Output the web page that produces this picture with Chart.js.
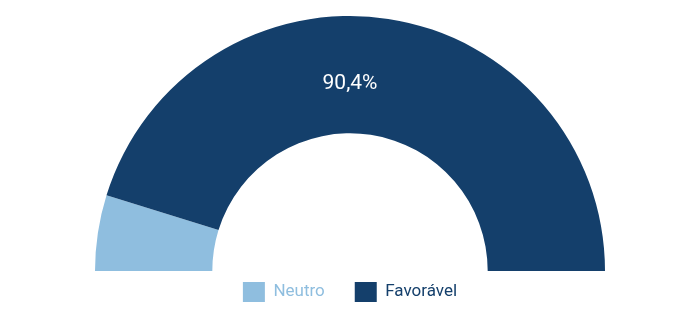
<!DOCTYPE html>
<html>
<head>
<meta charset="utf-8">
<script src="https://cdn.jsdelivr.net/npm/chart.js@4"></script>
<style>
html, body { margin: 0; padding: 0; background: #fff; }
#wrap { width: 700px; height: 327px; }
</style>
</head>
<body>
<div id="wrap"><canvas id="gaugeChart"></canvas></div>
<script>
const categories = ["Neutro", "Favorável"];
const values = [9.6, 90.4];
const colors = ["#8fbedf", "#143f6b"];
const labelIndex = 1;

// percent label on the top of the big arc
const topLabel = {
  id: "topLabel",
  afterDatasetsDraw(chart) {
    const arc = chart.getDatasetMeta(0).data[labelIndex];
    if (!arc) return;
    const total = values.reduce((a, b) => a + b, 0);
    const pct = (values[labelIndex] / total * 100).toFixed(1).replace(".", ",") + "%";
    const r = arc.innerRadius + (arc.outerRadius - arc.innerRadius) * 0.42;
    const ctx = chart.ctx;
    ctx.save();
    ctx.fillStyle = "#ffffff";
    ctx.font = "21px Roboto";
    ctx.textAlign = "center";
    ctx.textBaseline = "middle";
    ctx.fillText(pct, arc.x, arc.y - r);
    ctx.restore();
  }
};

new Chart(document.getElementById("gaugeChart"), {
  type: "doughnut",
  data: {
    labels: categories,
    datasets: [{
      data: values,
      backgroundColor: colors,
      borderWidth: 0,
      radius: 255,
      clip: false
    }]
  },
  options: {
    responsive: true,
    maintainAspectRatio: false,
    animation: false,
    rotation: -90,
    circumference: 180,
    cutout: "54%",
    layout: { padding: { top: 35, bottom: 15 } },
    plugins: {
      tooltip: { enabled: false },
      legend: {
        position: "bottom",
        labels: {
          boxWidth: 22,
          boxHeight: 20,
          padding: 30,
          font: { family: "Roboto", size: 17 },
          generateLabels(chart) {
            return categories.map((c, i) => ({
              text: c,
              fillStyle: colors[i],
              strokeStyle: colors[i],
              fontColor: colors[i],
              lineWidth: 0,
              hidden: false,
              index: i
            }));
          }
        }
      }
    }
  },
  plugins: [topLabel]
});
</script>
</body>
</html>
